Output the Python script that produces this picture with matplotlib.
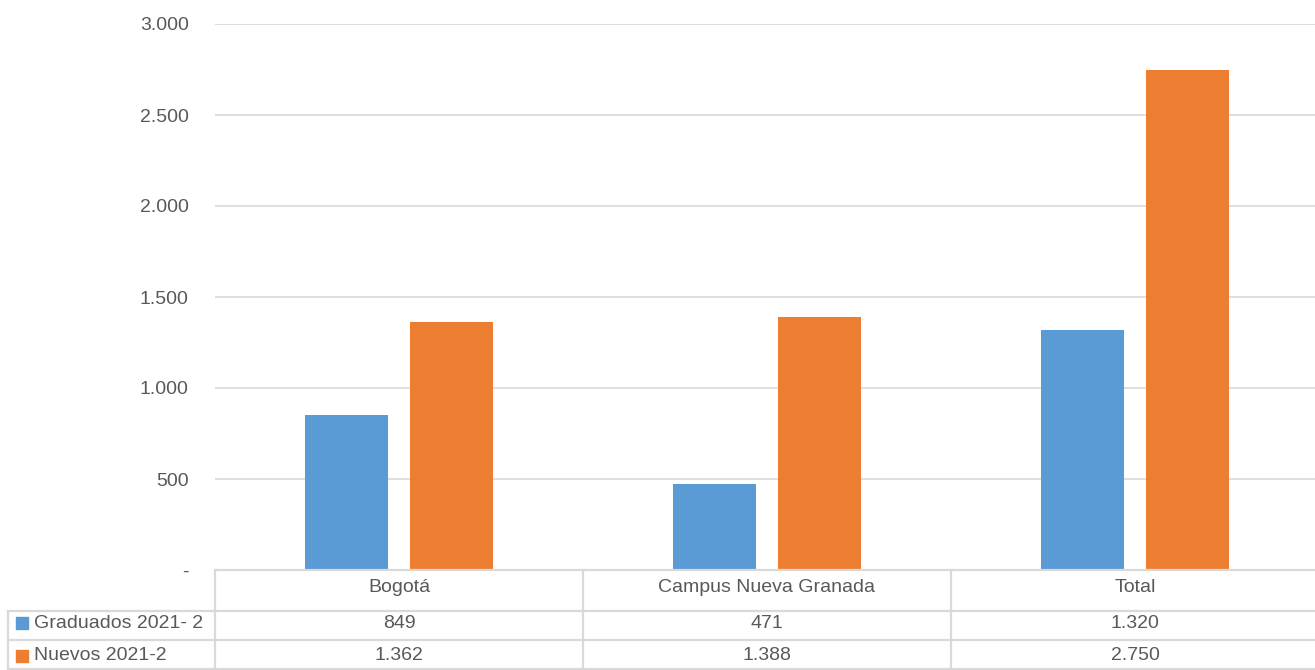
import matplotlib.pyplot as plt
from matplotlib.lines import Line2D
import numpy as np

categories = ['Bogotá', 'Campus Nueva Granada', 'Total']
series_names = ['Graduados 2021- 2', 'Nuevos 2021-2']
graduados = [849, 471, 1320]
nuevos = [1362, 1388, 2750]
yticks = [0, 500, 1000, 1500, 2000, 2500, 3000]

BLUE = '#5B9BD5'
ORANGE = '#ED7D31'
GRID = '#D9D9D9'
TXT = '#595959'
W, H = 1315, 670
FS = 14

plt.rcParams['font.family'] = ['Liberation Sans', 'DejaVu Sans']


def fmt(v):
    if v == 0:
        return '-'
    return f'{v:,}'.replace(',', '.')


def fx(px):
    return px / W


def fy(py):
    return 1 - py / H


fig = plt.figure(figsize=(W / 100, H / 100), dpi=100)
X0, X1 = 215, 1319
ax = fig.add_axes([fx(X0), fy(570), fx(X1) - fx(X0), fy(24) - fy(570)])

x = np.arange(len(categories))
bw = 0.226
ax.bar(x - 0.143, graduados, bw, color=BLUE, zorder=3)
ax.bar(x + 0.143, nuevos, bw, color=ORANGE, zorder=3)

ax.set_xlim(-0.5, len(categories) - 0.5)
ax.set_ylim(0, 3000)
ax.set_yticks(yticks)
ax.set_yticklabels([fmt(v) for v in yticks])
ax.tick_params(axis='y', length=0, pad=19, labelsize=FS, labelcolor=TXT)
ax.set_xticks([])
ax.grid(axis='y', color=GRID, linewidth=1.2, zorder=0)
for s in ax.spines.values():
    s.set_visible(False)

# data table under the chart
col_w = (X1 - X0) / len(categories)
lw = 1.6
lines = [
    ((X0, 1315), (570, 570)),
    ((8, 1315), (611, 611)),
    ((8, 1315), (640, 640)),
    ((8, 1315), (669, 669)),
    ((8, 8), (611, 670)),
    ((X0, X0), (570, 670)),
    ((X0 + col_w, X0 + col_w), (570, 670)),
    ((X0 + 2 * col_w, X0 + 2 * col_w), (570, 670)),
]
for xs, ys in lines:
    fig.add_artist(Line2D([fx(v) for v in xs], [fy(v) for v in ys],
                          color=GRID, linewidth=lw))

for i, cat in enumerate(categories):
    cx = fx(X0 + col_w * (i + 0.5))
    fig.text(cx, fy(588), cat, ha='center', va='center', fontsize=FS, color=TXT)
    fig.text(cx, fy(623), fmt(graduados[i]), ha='center', va='center', fontsize=FS, color=TXT)
    fig.text(cx, fy(656), fmt(nuevos[i]), ha='center', va='center', fontsize=FS, color=TXT)

for name, color, py in [(series_names[0], BLUE, 623), (series_names[1], ORANGE, 656)]:
    fig.add_artist(plt.Rectangle((fx(16), fy(py + 6)), fx(12), fy(py - 6) - fy(py + 6),
                                 color=color, transform=fig.transFigure))
    fig.text(fx(34), fy(py), name, ha='left', va='center', fontsize=FS, color=TXT)

fig.savefig('out.png', dpi=100)
